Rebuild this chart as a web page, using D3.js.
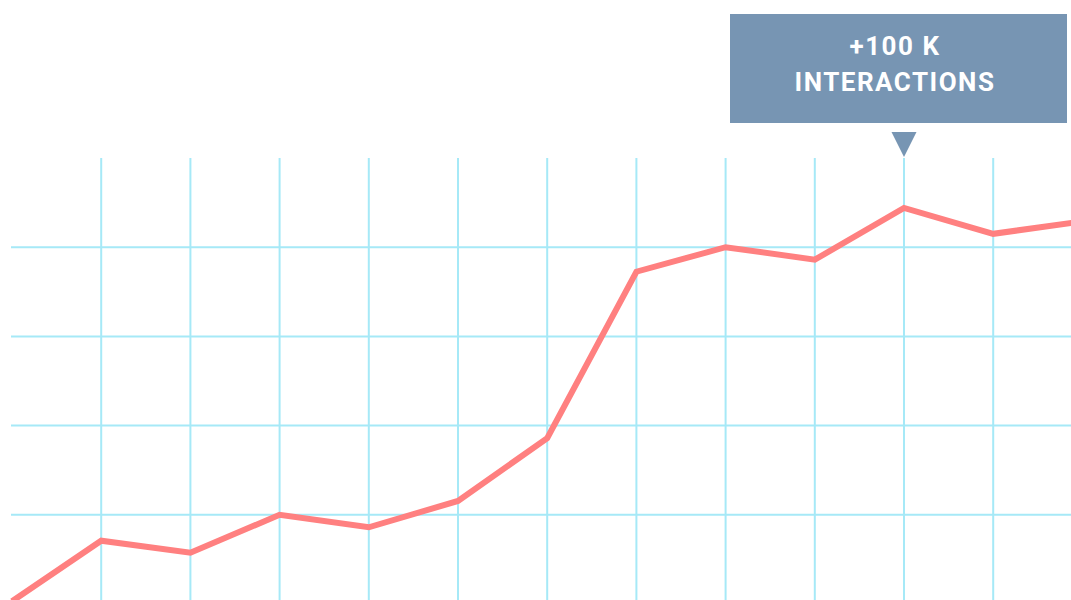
<!DOCTYPE html>
<html><head>
<meta charset="utf-8">
<script src="https://cdn.jsdelivr.net/npm/d3@7"></script>
<style>
body{
  margin: 0px;
  background: #fff;
  overflow: hidden;
}
.grid line {
  stroke: #a6e9f7;
  stroke-width: 2px;
}
.trend {
  fill: none;
  stroke: #ff8080;
  stroke-width: 6px;
  stroke-linejoin: miter;
}
.callout text {
  font-family: Roboto, "DejaVu Sans Condensed", sans-serif;
  font-weight: bold;
  fill: #fff;
  font-size: 26px;
  letter-spacing: 1.5px;
  text-anchor: middle;
}
</style>
<title>Interactions</title>
</head>
<body>
<script>
var width = 1071,
    height = 600;

// one point per column, value in grid units
var steps = [0, 1, 2, 3, 4, 5, 6, 7, 8, 9, 10, 11, 12];
var values = [0.03, 0.71, 0.575, 1.0, 0.86, 1.155, 1.86, 3.725, 4.0, 3.86, 4.44, 4.15, 4.29];
var vGrid = [1, 2, 3, 4, 5, 6, 7, 8, 9, 10, 11];
var hGrid = [1, 2, 3, 4];
var calloutLines = ["+100 K", "INTERACTIONS"];
var calloutStep = 10;

var x = d3.scaleLinear().domain([0, 12]).range([12, 12 + 12 * 89.2]);
var y = d3.scaleLinear().domain([0, 5]).range([604, 158]);

var svg = d3.select("body").append("svg")
    .attr("width", width)
    .attr("height", height);

var grid = svg.append("g").attr("class", "grid");

grid.selectAll(".v").data(vGrid).enter().append("line")
    .attr("class", "v")
    .attr("x1", function(d){ return x(d); })
    .attr("x2", function(d){ return x(d); })
    .attr("y1", y(5))
    .attr("y2", height);

grid.selectAll(".h").data(hGrid).enter().append("line")
    .attr("class", "h")
    .attr("x1", 11)
    .attr("x2", width)
    .attr("y1", function(d){ return y(d); })
    .attr("y2", function(d){ return y(d); });

var line = d3.line()
    .x(function(d, i){ return x(steps[i]); })
    .y(function(d){ return y(d); });

svg.append("path")
    .datum(values)
    .attr("class", "trend")
    .attr("d", line);

// callout box over the peak
var cx = x(calloutStep);
var callout = svg.append("g").attr("class", "callout");

callout.append("rect")
    .attr("x", 730)
    .attr("y", 14)
    .attr("width", 337)
    .attr("height", 109)
    .attr("fill", "#7795b3");

callout.append("path")
    .attr("d", "M" + (cx - 12.5) + ",132 L" + (cx + 12.5) + ",132 L" + cx + ",157 Z")
    .attr("fill", "#7795b3");

callout.selectAll("text").data(calloutLines).enter().append("text")
    .attr("x", 895)
    .attr("y", function(d, i){ return 55 + i * 36; })
    .text(function(d){ return d; });
</script>
</body></html>
